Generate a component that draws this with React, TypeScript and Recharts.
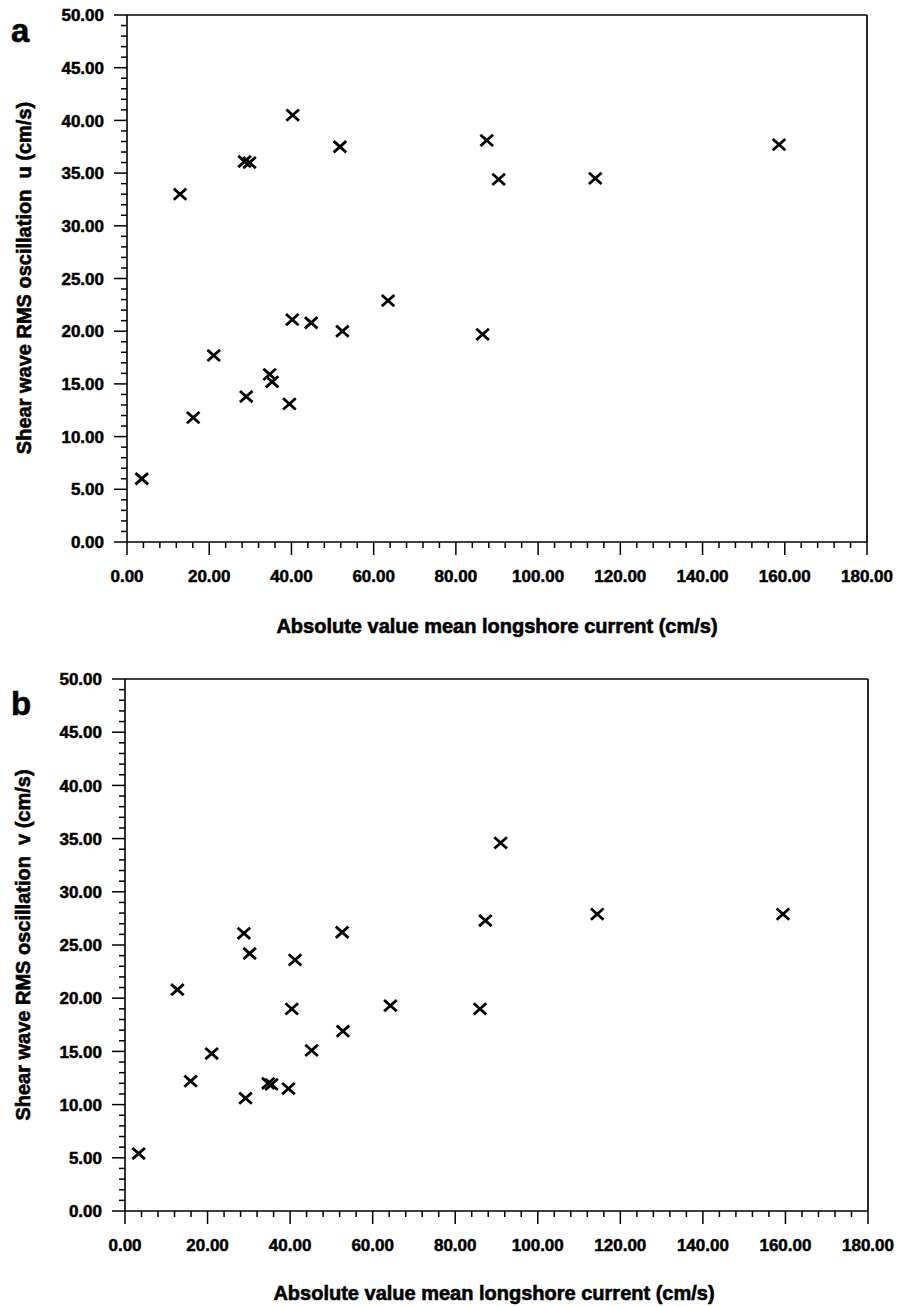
import React from 'react';
import { ScatterChart, Scatter, XAxis, YAxis, ReferenceLine } from 'recharts';

// mean longshore current (cm/s) and RMS shear wave oscillation (cm/s)
const currentU = [3.6, 16.1, 21.1, 29.0, 34.7, 35.3, 39.5, 40.2, 44.8, 52.4, 63.5, 86.5, 12.9, 28.6, 29.8, 40.3, 51.8, 87.5, 90.4, 113.9, 158.6];
const uRms = [6.0, 11.8, 17.7, 13.8, 15.9, 15.2, 13.1, 21.1, 20.8, 20.0, 22.9, 19.7, 33.0, 36.1, 36.0, 40.5, 37.5, 38.1, 34.4, 34.5, 37.7];

const currentV = [3.3, 12.7, 15.9, 21.0, 28.8, 30.2, 29.2, 34.7, 35.5, 39.6, 40.4, 41.2, 45.2, 52.6, 52.8, 64.3, 86.0, 87.3, 91.0, 114.4, 159.4];
const vRms = [5.4, 20.8, 12.2, 14.8, 26.1, 24.2, 10.6, 12.0, 11.9, 11.5, 19.0, 23.6, 15.1, 26.2, 16.9, 19.3, 19.0, 27.3, 34.6, 27.9, 27.9];

const xMajorTicks = [0, 20, 40, 60, 80, 100, 120, 140, 160, 180];
const yMajorTicks = [0, 5, 10, 15, 20, 25, 30, 35, 40, 45, 50];

const xTitle = 'Absolute value mean longshore current (cm/s)';
const yTitleU = 'Shear wave RMS oscillation  u (cm/s)';
const yTitleV = 'Shear wave RMS oscillation  v (cm/s)';

const FONT = '"Liberation Sans", Arial, Helvetica, sans-serif';

// minor ticks: every 4 cm/s on x, every 1 cm/s on y
const xAllTicks: number[] = [];
for (let v = 0; v <= 180; v += 4) xAllTicks.push(v);
const yAllTicks: number[] = [];
for (let v = 0; v <= 50; v += 1) yAllTicks.push(v);

const zip = (xs: number[], ys: number[]) => xs.map((x, i) => ({ x, y: ys[i] }));

const XMark = (props: any) => {
  const { cx, cy } = props;
  if (cx == null || cy == null) return null;
  const w = 6.3;
  const h = 5.6;
  return (
    <g stroke="#000" strokeWidth={2.8}>
      <line x1={cx - w} y1={cy - h} x2={cx + w} y2={cy + h} />
      <line x1={cx - w} y1={cy + h} x2={cx + w} y2={cy - h} />
    </g>
  );
};

// heavy bold text, slightly stroked
const label = { fontFamily: FONT, fontWeight: 'bold' as const, fill: '#000', stroke: '#000', strokeWidth: 0.5 };

const XTick = (props: any) => {
  const { x, y, payload } = props;
  const major = xMajorTicks.includes(payload.value);
  return (
    <g>
      <line x1={x} y1={y} x2={x} y2={y + (major ? 13 : 6)} stroke="#000" strokeWidth={1.5} />
      {major && (
        <text x={x} y={y + 34} dy="0.36em" textAnchor="middle" fontSize={17} {...label}>
          {payload.value.toFixed(2)}
        </text>
      )}
    </g>
  );
};

const YTick = (props: any) => {
  const { x, y, payload } = props;
  const major = yMajorTicks.includes(payload.value);
  return (
    <g>
      <line x1={x - (major ? 13 : 6)} y1={y} x2={x} y2={y} stroke="#000" strokeWidth={1.5} />
      {major && (
        <text x={x - 23} y={y} dy="0.36em" textAnchor="end" fontSize={17} {...label}>
          {payload.value.toFixed(2)}
        </text>
      )}
    </g>
  );
};

interface PanelProps {
  data: Array<{ x: number; y: number }>;
  width: number;
  height: number;
  margin: { top: number; right: number; bottom: number; left: number };
  yAxisWidth: number;
  xAxisHeight: number;
}

const Panel: React.FC<PanelProps> = ({ data, width, height, margin, yAxisWidth, xAxisHeight }) => (
  <ScatterChart width={width} height={height} margin={margin}>
    <XAxis
      type="number"
      dataKey="x"
      domain={[0, 180]}
      ticks={xAllTicks}
      interval={0}
      tickSize={0}
      tickMargin={0}
      tick={<XTick />}
      height={xAxisHeight}
      axisLine={{ stroke: '#000', strokeWidth: 1.6 }}
      allowDataOverflow
    />
    <YAxis
      type="number"
      dataKey="y"
      domain={[0, 50]}
      ticks={yAllTicks}
      interval={0}
      tickSize={0}
      tickMargin={0}
      tick={<YTick />}
      width={yAxisWidth}
      axisLine={{ stroke: '#000', strokeWidth: 1.6 }}
      allowDataOverflow
    />
    <ReferenceLine y={50} stroke="#000" strokeWidth={1.7} />
    <ReferenceLine x={180} stroke="#000" strokeWidth={1.7} />
    <Scatter data={data} shape={<XMark />} isAnimationActive={false} />
  </ScatterChart>
);

const title = { fontFamily: FONT, fontWeight: 'bold' as const, fill: '#000', stroke: '#000', strokeWidth: 0.6 };

const App: React.FC = () => {
  return (
    <div style={{ position: 'absolute', left: 0, top: 0, width: 899, height: 1307, background: '#fff' }}>
      <div style={{ position: 'absolute', left: 0, top: 0 }}>
        <Panel
          data={zip(currentU, uRms)}
          width={899}
          height={660}
          margin={{ top: 15, right: 32, bottom: 18, left: 0 }}
          yAxisWidth={127}
          xAxisHeight={100}
        />
      </div>
      <div style={{ position: 'absolute', left: 0, top: 660 }}>
        <Panel
          data={zip(currentV, vRms)}
          width={899}
          height={647}
          margin={{ top: 19, right: 31, bottom: 6, left: 0 }}
          yAxisWidth={125}
          xAxisHeight={90}
        />
      </div>
      <svg width={899} height={1307} style={{ position: 'absolute', left: 0, top: 0, pointerEvents: 'none' }}>
        <text x={11} y={42} fontSize={33} {...title}>a</text>
        <text x={11} y={715} fontSize={33} {...title}>b</text>
        <text x={23.5} y={278} fontSize={20} textAnchor="middle" dy="0.36em" transform="rotate(-90 23.5 278)" style={{ whiteSpace: 'pre' }} {...title}>
          {yTitleU}
        </text>
        <text x={497} y={626} fontSize={20} textAnchor="middle" dy="0.36em" {...title}>{xTitle}</text>
        <text x={22.5} y={945} fontSize={20} textAnchor="middle" dy="0.36em" transform="rotate(-90 22.5 945)" style={{ whiteSpace: 'pre' }} {...title}>
          {yTitleV}
        </text>
        <text x={494} y={1293} fontSize={20} textAnchor="middle" dy="0.36em" {...title}>{xTitle}</text>
      </svg>
    </div>
  );
};

export default App;
